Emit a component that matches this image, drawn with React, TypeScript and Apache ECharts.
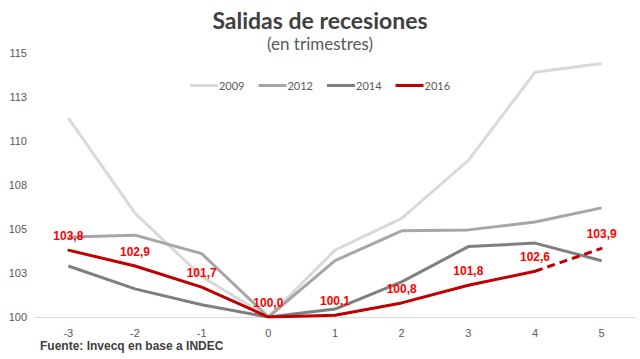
import React, { useEffect, useRef } from "react";
import * as echarts from "echarts";

const categories = ["-3", "-2", "-1", "0", "1", "2", "3", "4", "5"];
const s2009 = [111.3, 105.9, 102.3, 100.0, 103.8, 105.6, 108.9, 113.9, 114.4];
const s2012 = [104.55, 104.65, 103.6, 100.0, 103.2, 104.9, 104.95, 105.4, 106.2];
const s2014 = [102.9, 101.6, 100.7, 100.0, 100.45, 102.0, 104.0, 104.2, 103.2];
const s2016 = [103.8, 102.9, 101.7, 100.0, 100.1, 100.8, 101.8, 102.6, null];
const s2016proj = [null, null, null, null, null, null, null, 102.6, 103.9];

const fmt = (v: number) => v.toFixed(1).replace(".", ",");

export default function App() {
  const ref = useRef<HTMLDivElement>(null);
  useEffect(() => {
    if (!ref.current) return;
    const chart = echarts.init(ref.current, undefined, { renderer: "svg" });
    const labelStyle = {
      show: true,
      position: "top" as const,
      distance: 7,
      color: "#ff0000",
      fontWeight: "bold" as const,
      fontSize: 12,
      fontFamily: "Liberation Sans",
      formatter: (p: any) => fmt(p.value),
    };
    chart.setOption({
      animation: false,
      backgroundColor: "#ffffff",
      title: [
        {
          text: "Salidas de recesiones",
          left: "center",
          top: 8,
          padding: 0,
          textStyle: { fontFamily: "Lato", fontWeight: "bold", fontSize: 23, color: "#404040", lineHeight: 24 },
        },
        {
          text: "(en trimestres)",
          left: "center",
          top: 34,
          padding: 0,
          textStyle: { fontFamily: "Lato", fontWeight: "normal", fontSize: 17, color: "#595959", lineHeight: 18 },
        },
      ],
      legend: {
        top: 75,
        left: "center",
        itemWidth: 28,
        itemHeight: 3,
        itemGap: 14,
        icon: "rect",
        textStyle: { fontFamily: "Lato", fontSize: 11, color: "#595959", padding: [0, 0, 0, -4] },
        data: ["2009", "2012", "2014", "2016"],
      },
      grid: { left: 35, right: 5, top: 53, bottom: 42 },
      xAxis: {
        type: "category",
        data: categories,
        boundaryGap: true,
        axisLine: { lineStyle: { color: "#d9d9d9", width: 1 } },
        axisTick: { show: false },
        axisLabel: { color: "#595959", fontSize: 11, fontFamily: "Liberation Sans", margin: 10 },
      },
      yAxis: {
        type: "value",
        min: 100,
        max: 115,
        interval: 2.5,
        splitLine: { show: false },
        axisLine: { show: false },
        axisTick: { show: false },
        axisLabel: {
          color: "#595959",
          fontSize: 11,
          fontFamily: "Liberation Sans",
          margin: 8,
          formatter: (v: number) => String(Math.round(v)),
        },
      },
      series: [
        {
          name: "2009", type: "line", data: s2009, symbol: "none",
          lineStyle: { color: "#d9d9d9", width: 3 }, itemStyle: { color: "#d9d9d9" },
        },
        {
          name: "2012", type: "line", data: s2012, symbol: "none",
          lineStyle: { color: "#a6a6a6", width: 3 }, itemStyle: { color: "#a6a6a6" },
        },
        {
          name: "2014", type: "line", data: s2014, symbol: "none",
          lineStyle: { color: "#7f7f7f", width: 3 }, itemStyle: { color: "#7f7f7f" },
        },
        {
          name: "2016", type: "line", data: s2016, symbol: "circle", symbolSize: 2, showSymbol: true,
          lineStyle: { color: "#c00000", width: 3 }, itemStyle: { color: "#c00000" },
          label: labelStyle, z: 5,
        },
        {
          name: "2016p", type: "line", data: s2016proj, symbol: "circle", symbolSize: 2, showSymbol: true,
          lineStyle: { color: "#c00000", width: 3, type: [8, 5] }, itemStyle: { color: "#c00000" },
          label: { ...labelStyle, formatter: (p: any) => (p.dataIndex === 8 ? fmt(p.value) : "") },
          z: 5,
        },
      ],
      graphic: [
        {
          type: "text",
          left: 40,
          top: 340,
          style: {
            text: "Fuente: Invecq en base a INDEC",
            fontFamily: "Liberation Sans",
            fontWeight: "bold",
            fontSize: 12,
            fill: "#404040",
          },
        },
      ],
    });
    return () => chart.dispose();
  }, []);
  return (
    <div
      ref={ref}
      style={{ position: "fixed", left: 0, top: 0, width: 640, height: 359 }}
    />
  );
}
